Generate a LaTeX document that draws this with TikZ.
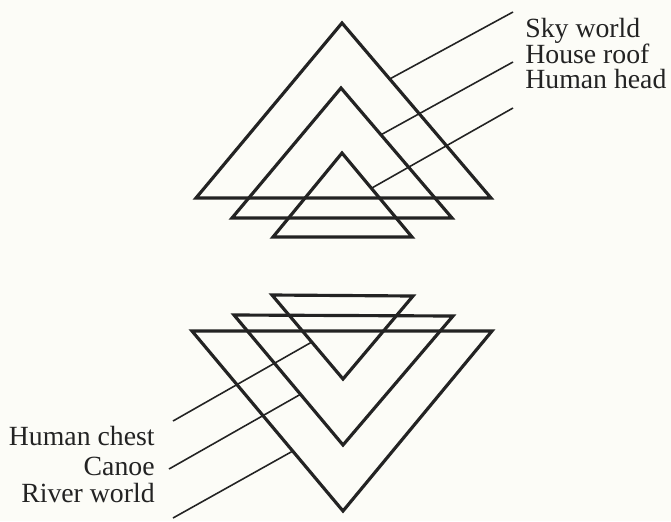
\documentclass[tikz,border=0pt]{standalone}
\usepackage{fontspec}
\setmainfont{Liberation Serif}
\usetikzlibrary{calc}
\definecolor{paper}{RGB}{252,252,247}
\definecolor{ink}{RGB}{35,35,35}

\begin{document}
\begin{tikzpicture}[
  x=0.02cm, y=-0.02cm,
  tri/.style  = {draw=ink, line width=1.8pt, line join=miter},
  lead/.style = {draw=ink, line width=0.9pt},
  lbl/.style  = {font=\fontsize{15.8}{18}\selectfont, inner sep=0pt, text=ink}
]
\fill[paper] (0,0) rectangle (671,521);
\useasboundingbox (0,0) rectangle (671,521);

%% ===== upper triangles =====
\coordinate (skyT) at (342,23);  \coordinate (skyL) at (196,198);  \coordinate (skyR) at (491,198);
\coordinate (roofT) at (341,88); \coordinate (roofL) at (232,218); \coordinate (roofR) at (452,218);
\coordinate (headT) at (342,153);\coordinate (headL) at (273,237); \coordinate (headR) at (412,237);

\draw[tri] (skyT) -- (skyL) -- (skyR) -- cycle;
\draw[tri] (roofT) -- (roofL) -- (roofR) -- cycle;
\draw[tri] (headT) -- (headL) -- (headR) -- cycle;

\node[lbl, anchor=base west] (sky)  at (525,37) {Sky world};
\node[lbl, anchor=base west] (roof) at (525,63) {House roof};
\node[lbl, anchor=base west] (head) at (525,88) {Human head};

\coordinate (skyEnd)  at (513,12);
\coordinate (roofEnd) at (513,62);
\coordinate (headEnd) at (513,108);

\draw[lead] ($(skyT)!0.32!(skyR)$) -- (skyEnd);
\draw[lead] ($(roofT)!0.36!(roofR)$) -- (roofEnd);
\draw[lead] ($(headT)!0.42!(headR)$) -- (headEnd);

%% ===== lower triangles =====
\coordinate (chestL) at (272,295); \coordinate (chestR) at (413,296); \coordinate (chestB) at (343,379);
\coordinate (canoeL) at (234,315); \coordinate (canoeR) at (453,316); \coordinate (canoeB) at (343,445);
\coordinate (riverL) at (192,331); \coordinate (riverR) at (492,331); \coordinate (riverB) at (343,511);

\draw[tri] (chestL) -- (chestR) -- (chestB) -- cycle;
\draw[tri] (canoeL) -- (canoeR) -- (canoeB) -- cycle;
\draw[tri] (riverL) -- (riverR) -- (riverB) -- cycle;

\node[lbl, anchor=base east] (chest) at (155,445) {Human chest};
\node[lbl, anchor=base east] (canoe) at (155,475) {Canoe};
\node[lbl, anchor=base east] (river) at (155,502) {River world};

\coordinate (chestEnd) at (173,421);
\coordinate (canoeEnd) at (169,469);
\coordinate (riverEnd) at (173,518);

\draw[lead] ($(chestL)!0.56!(chestB)$) -- (chestEnd);
\draw[lead] ($(canoeL)!0.61!(canoeB)$) -- (canoeEnd);
\draw[lead] ($(riverL)!0.667!(riverB)$) -- (riverEnd);

\end{tikzpicture}
\end{document}
